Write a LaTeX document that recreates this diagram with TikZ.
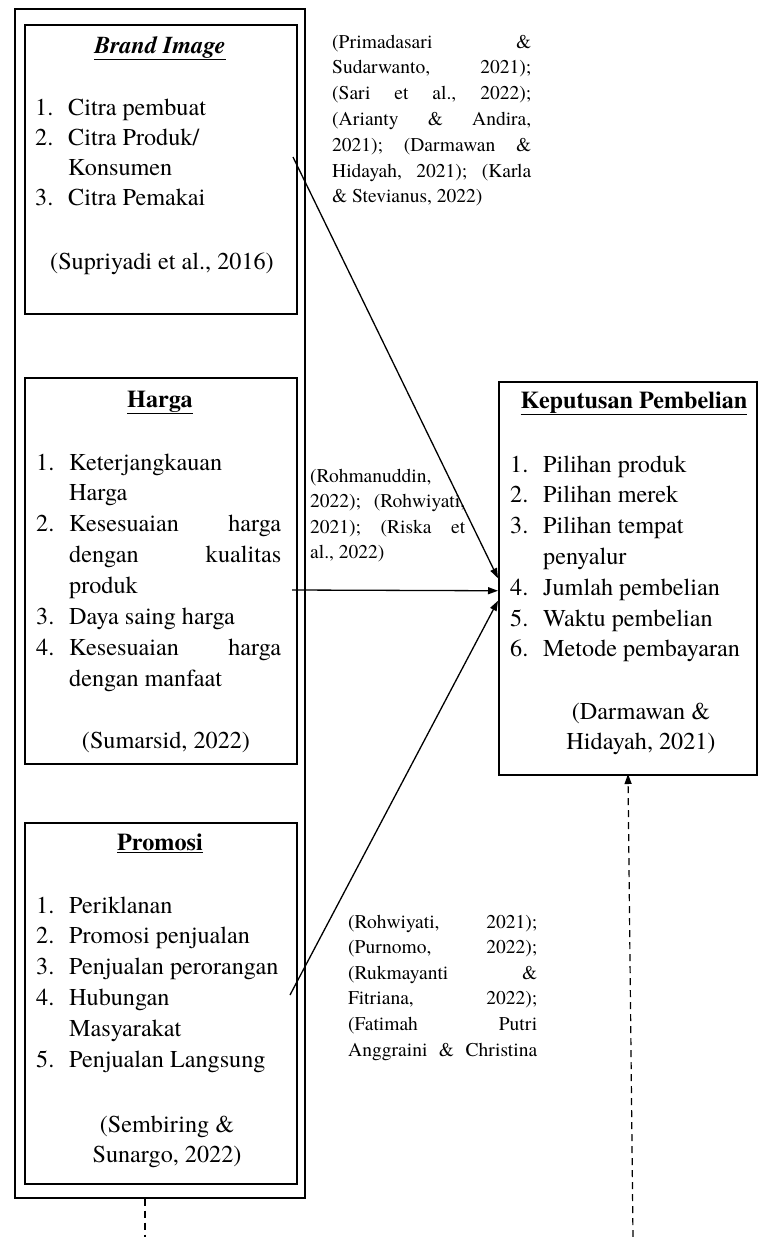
\documentclass[tikz,border=0pt]{standalone}
\usepackage{fontspec}
\setmainfont{texgyretermes}[Extension=.otf, UprightFont=*-regular, BoldFont=*-bold, ItalicFont=*-italic, BoldItalicFont=*-bolditalic]
\usetikzlibrary{arrows.meta}
\newcommand{\numln}[2]{\hbox{\makebox[33pt][l]{#1}#2}}
\newcommand{\mainsz}{\fontsize{24.2pt}{30.8pt}\selectfont}
\newcommand{\citesz}{\fontsize{19.5pt}{25.8pt}\selectfont}
\begin{document}
\begin{tikzpicture}[x=1pt,y=-1pt,
  box/.style={draw, line width=1.5pt, inner sep=0pt, anchor=north west},
  txt/.style={inner sep=0pt, anchor=base west, font=\mainsz},
  ctr/.style={inner sep=0pt, anchor=base, font=\mainsz},
  cite/.style={inner sep=0pt, anchor=base west, font=\citesz},
  conn/.style={line width=1.3pt, -{Triangle[length=10pt,width=7pt]}},
  dashln/.style={line width=1.2pt, dash pattern=on 7pt off 5pt}]
\useasboundingbox (0,0) rectangle (758,1237);
% boxes
\node[box, minimum width=290pt, minimum height=1189pt] (outer) at (14,8) {};
\node[box, minimum width=272pt, minimum height=289pt] (brand) at (24,24) {};
\node[box, minimum width=272pt, minimum height=386pt] (harga) at (24,377) {};
\node[box, minimum width=272pt, minimum height=361pt] (promo) at (24,822) {};
\node[box, minimum width=258pt, minimum height=393pt] (kp) at (498,381) {};
% titles
\node[ctr] (tbrand) at (160,53) {\underline{\textbf{\textit{Brand Image}}}};
\node[ctr] (tharga) at (160,407) {\underline{\textbf{Harga}}};
\node[ctr] (tpromo) at (160,850) {\underline{\textbf{Promosi}}};
\node[ctr] (tkp) at (634,408) {\underline{\textbf{Keputusan Pembelian}}};
% lists
\node[txt] (lbrand) at (35,115) {\vtop{\baselineskip=30pt
  \numln{1.}{Citra pembuat}
  \numln{2.}{Citra Produk/}
  \numln{}{Konsumen}
  \numln{3.}{Citra Pemakai}}};
\node[txt] (cbrand) at (50,269) {(Supriyadi et al., 2016)};
\node[txt] (lharga) at (36,470) {\vtop{\baselineskip=30.86pt
  \numln{1.}{Keterjangkauan}
  \numln{}{Harga}
  \numln{2.}{\hbox to 212pt{Kesesuaian\hfill harga}}
  \numln{}{\hbox to 212pt{dengan\hfill kualitas}}
  \numln{}{produk}
  \numln{3.}{Daya saing harga}
  \numln{4.}{\hbox to 212pt{Kesesuaian\hfill harga}}
  \numln{}{dengan manfaat}}};
\node[ctr] (charga) at (166,748) {(Sumarsid, 2022)};
\node[txt] (lpromo) at (36,913) {\vtop{\baselineskip=30.8pt
  \numln{1.}{Periklanan}
  \numln{2.}{Promosi penjualan}
  \numln{3.}{Penjualan perorangan}
  \numln{4.}{Hubungan}
  \numln{}{Masyarakat}
  \numln{5.}{Penjualan Langsung}}};
\node[ctr] (cpromo) at (167,1132) {\vtop{\baselineskip=30pt\halign{\hfil#\hfil\cr
  (Sembiring \&\cr Sunargo, 2022)\cr}}};
\node[txt] (lkp) at (510,472) {\vtop{\baselineskip=30.8pt
  \numln{1.}{Pilihan produk}
  \numln{2.}{Pilihan merek}
  \numln{3.}{Pilihan tempat}
  \numln{}{penyalur}
  \numln{4.}{Jumlah pembelian}
  \numln{5.}{Waktu pembelian}
  \numln{6.}{Metode pembayaran}}};
\node[ctr] (ckp) at (641,719) {\vtop{\baselineskip=30pt\halign{\hfil#\hfil\cr
  (Darmawan \&\cr Hidayah, 2021)\cr}}};
% citations on arrows
\node[cite] (r1) at (332,48) {\vtop{\baselineskip=25.83pt
  \hbox to 199pt{(Primadasari\hfill \&}
  \hbox to 199pt{Sudarwanto,\hfill 2021);}
  \hbox to 199pt{(Sari\hfill et\hfill al.,\hfill 2022);}
  \hbox to 199pt{(Arianty\hfill \&\hfill Andira,}
  \hbox to 199pt{2021);\hfill (Darmawan\hfill \&}
  \hbox to 199pt{Hidayah,\hfill 2021);\hfill (Karla}
  \hbox{\& Stevianus, 2022)}}};
\node[cite] (r2) at (310,482) {\vtop{\baselineskip=25.5pt
  \hbox{(Rohmanuddin,}
  \hbox to 155pt{2022);\hfill (Rohwiyati,}
  \hbox to 155pt{2021);\hfill (Riska\hfill et}
  \hbox{al., 2022)}}};
\node[cite] (r3) at (348,928) {\vtop{\baselineskip=25.6pt
  \hbox to 189pt{(Rohwiyati,\hfill 2021);}
  \hbox to 189pt{(Purnomo,\hfill 2022);}
  \hbox to 189pt{(Rukmayanti\hfill \&}
  \hbox to 189pt{Fitriana,\hfill 2022);}
  \hbox to 189pt{(Fatimah\hfill Putri}
  \hbox to 189pt{Anggraini\hfill \&\hfill Christina}}};
% connectors
\coordinate (bs) at (293,157);
\coordinate (hs) at (292,590);
\coordinate (ps) at (290,995);
\draw[conn] (bs) -- (kp.west);
\draw[conn] (hs) -- ([yshift=-12.5pt]kp.west);
\draw[conn] (ps) -- ([yshift=-22.5pt]kp.west);
\coordinate (dl) at (145,1237);
\draw[dashln] (dl |- outer.south) -- (dl);
\coordinate (dr) at (633,1237);
\coordinate (dre) at (628,774);
\draw[dashln, -{Triangle[length=10pt,width=7pt]}] (dr) -- (dre);
\end{tikzpicture}
\end{document}
